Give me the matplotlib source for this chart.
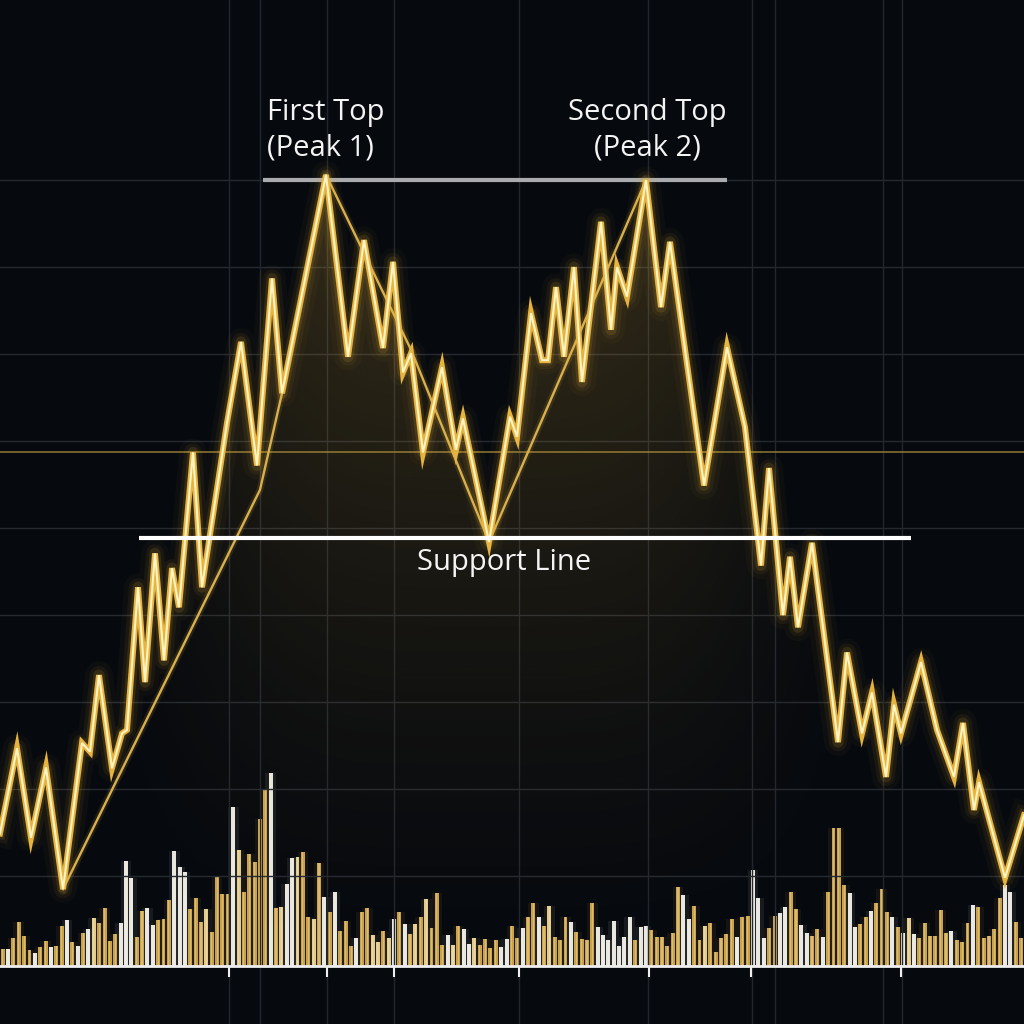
import numpy as np
import matplotlib.pyplot as plt
import matplotlib.colors as mcolors

plt.rcParams['font.family'] = ['Open Sans', 'DejaVu Sans']

# price path: time (chart units) and price
t = [0, 17, 31, 46, 63, 82, 90, 99, 112, 122, 127, 138, 145, 155, 164, 172, 179, 193, 202, 227,
     241, 257, 272, 282, 326, 348, 364, 383, 393, 403, 411, 423, 442, 456, 463, 489, 510, 517, 531, 542,
     548, 556, 564, 574, 582, 601, 611, 617, 627, 646, 661, 670, 704, 727, 745, 761, 769, 783, 790, 798,
     812, 838, 847, 862, 872, 886, 894, 901, 921, 937, 954, 963, 974, 979, 1005, 1024]
price = [14.9, 24.7, 14.4, 22.5, 8.5, 25.3, 24.3, 33.1, 22.4, 26.4, 26.8, 43.2, 32.3, 47.1, 34.8, 45.4, 40.9, 58.7, 43.2, 62.1,
         71.4, 57.2, 78.7, 65.5, 90.6, 69.7, 83.1, 70.7, 80.6, 67.9, 70.1, 58.7, 68.5, 59.0, 62.6, 48.4, 62.8, 60.5, 74.7, 69.3,
         69.3, 77.7, 69.7, 80.0, 66.8, 85.2, 72.8, 80.0, 76.6, 90.0, 75.4, 82.9, 54.9, 70.8, 61.6, 45.7, 56.9, 40.0, 46.7, 38.6,
         48.3, 25.4, 35.7, 26.4, 31.1, 21.4, 29.7, 26.4, 34.6, 26.8, 21.4, 27.6, 17.6, 20.8, 9.8, 17.0]

# thin trend trace
trend_t = [63, 260, 282, 326, 411, 489, 646]
trend_p = [8.5, 54.4, 65.5, 90.6, 70.5, 48.4, 90.0]

# levels
resistance = 90.0
resist_span = (263, 727)
support = 48.85
support_span = (139, 911)
midline = 58.7

# volume bars (one per session)
volume = [17, 17, 28, 44, 30, 16, 13, 19, 25, 19, 20, 40, 46, 24, 20, 33, 37, 48, 43, 58,
          25, 32, 43, 105, 88, 29, 55, 58, 41, 46, 47, 66, 115, 99, 94, 57, 68, 44, 57, 34,
          89, 72, 72, 159, 116, 74, 112, 104, 147, 176, 193, 58, 59, 82, 108, 109, 114, 49, 47, 103,
          69, 54, 74, 35, 45, 20, 28, 54, 58, 31, 24, 35, 28, 47, 54, 42, 32, 42, 49, 67,
          38, 73, 21, 31, 21, 40, 37, 22, 28, 21, 27, 18, 26, 19, 27,
          40, 28, 38, 49, 63, 49, 40, 60, 29, 26, 49, 44, 34, 27, 26, 63, 39, 31, 26, 45,
          20, 29, 49, 26, 39, 40, 36, 29, 29, 20, 33, 79, 71, 47, 60, 26, 40, 43, 14, 28,
          32, 47, 29, 49, 50, 96, 68, 28, 38, 50, 53, 59, 74, 57, 41, 33, 30, 37, 29, 74,
          138, 138, 81, 73, 39, 42, 49, 55, 63, 77, 54, 49, 39, 33, 48, 32, 28, 43, 30, 30,
          56, 33, 35, 26, 24, 43, 61, 59, 28, 30, 37, 68, 81, 74, 44, 28]
vol_kind = ('gwggggwggwggwgwgwpgg' 'ggwwwggwwgggwwwgggpg'
            'gggwpgggggwgpwwpggpg' 'wgwgggwggppgpwgwgpgp'
            'gggwpgwwpggggww'
            'ggwggwgpgggwggggwwww' 'wwwgwwggggggwwggpggg'
            'ggwggwwwggwwggwwggwg' 'gggwwggwgggwgwpwgggg'
            'ggwgggwgggggwwg')

time_ticks = [229, 327, 394, 519, 649, 751, 901]
grid_t = [229, 260, 327, 394, 519, 648, 752, 775, 883, 902]
grid_p = [10, 20, 30, 40, 50, 60, 70, 80, 90]

BG = '#06090e'
kind_color = {'g': '#c9a24c', 'p': '#e2cb8c', 'w': '#e8e6e0'}

fig = plt.figure(figsize=(10.24, 10.24), dpi=100, facecolor=BG)

# volume layer
axv = fig.add_axes([0, 0, 1, 1])
axv.set_xlim(-0.504, 190.54)
axv.set_ylim(-58, 966)
axv.axis('off')
idx = np.arange(len(volume))
cols = [kind_color[k] for k in vol_kind]
axv.bar(idx, volume, width=2.0, color=cols, alpha=0.08, zorder=1)
axv.bar(idx, volume, width=0.74, color=cols, zorder=2)
axv.bar(idx, volume, width=0.22, color='#fff6d8', alpha=0.3, zorder=3)

# price layer
ax = fig.add_axes([0, 0, 1, 1], facecolor='none')
ax.set_xlim(0, 1024)
ax.set_ylim(-7.0, 110.7)
ax.axis('off')

for g in grid_p:
    ax.axhline(g, color='#252930', lw=1, zorder=0)
for g in grid_t:
    ax.axvline(g, color='#22262d', lw=1, zorder=0)

base = -0.34
ax.axhline(base, color='#eeeeee', lw=2, zorder=9)
ax.vlines(time_ticks, base - 1.3, base, color='#eeeeee', lw=1.5, zorder=9)

# gradient fill under the price
fill = ax.fill_between(t, price, base, facecolor='none', edgecolor='none')
clip = fill.get_paths()[0]
gx = np.linspace(0, 1024, 400)
gy = np.linspace(base, 92, 300)
X, Y = np.meshgrid(gx, gy)
alpha = 0.24 * np.exp(-((X - 480) / 300) ** 4) * np.clip((Y - base) / (92 - base), 0, 1) ** 1.3
rgba = np.zeros(X.shape + (4,))
rgba[..., :3] = mcolors.to_rgb('#d8a93c')
rgba[..., 3] = alpha
img = ax.imshow(rgba, extent=[0, 1024, base, 92], origin='lower', aspect='auto',
                interpolation='bilinear', zorder=1)
img.set_clip_path(clip, transform=ax.transData)

ax.axhline(midline, color='#a88c3a', lw=1.1, alpha=0.85, zorder=2)
ax.hlines(resistance, *resist_span, color='#a9abae', lw=3, zorder=3)

# trend trace
ax.plot(trend_t, trend_p, color='#e0b44a', lw=5, alpha=0.12, zorder=3)
ax.plot(trend_t, trend_p, color='#d9b04c', lw=1.7, zorder=3)

# glowing price line
for lw, a in [(20, 0.03), (13, 0.06), (8, 0.12)]:
    ax.plot(t, price, color='#f0b93a', lw=lw, alpha=a, solid_joinstyle='round', zorder=4)
ax.plot(t, price, color='#e8b440', lw=4.3, solid_joinstyle='miter', zorder=5)
ax.plot(t, price, color='#fff4c4', lw=1.5, solid_joinstyle='miter', zorder=6)

ax.hlines(support, *support_span, color='#ffffff', lw=3, zorder=8)

txt = dict(color='#f4f4f4', fontsize=21, linespacing=1.28, zorder=10)
ax.text(267, 95.75, 'First Top\n(Peak 1)', ha='left', va='center', **txt)
ax.text(647, 95.75, 'Second Top\n(Peak 2)', ha='center', va='center', multialignment='center', **txt)
ax.text(504, 46.0, 'Support Line', ha='center', va='center', **txt)

fig.savefig('out.png', dpi=100, facecolor=BG)
